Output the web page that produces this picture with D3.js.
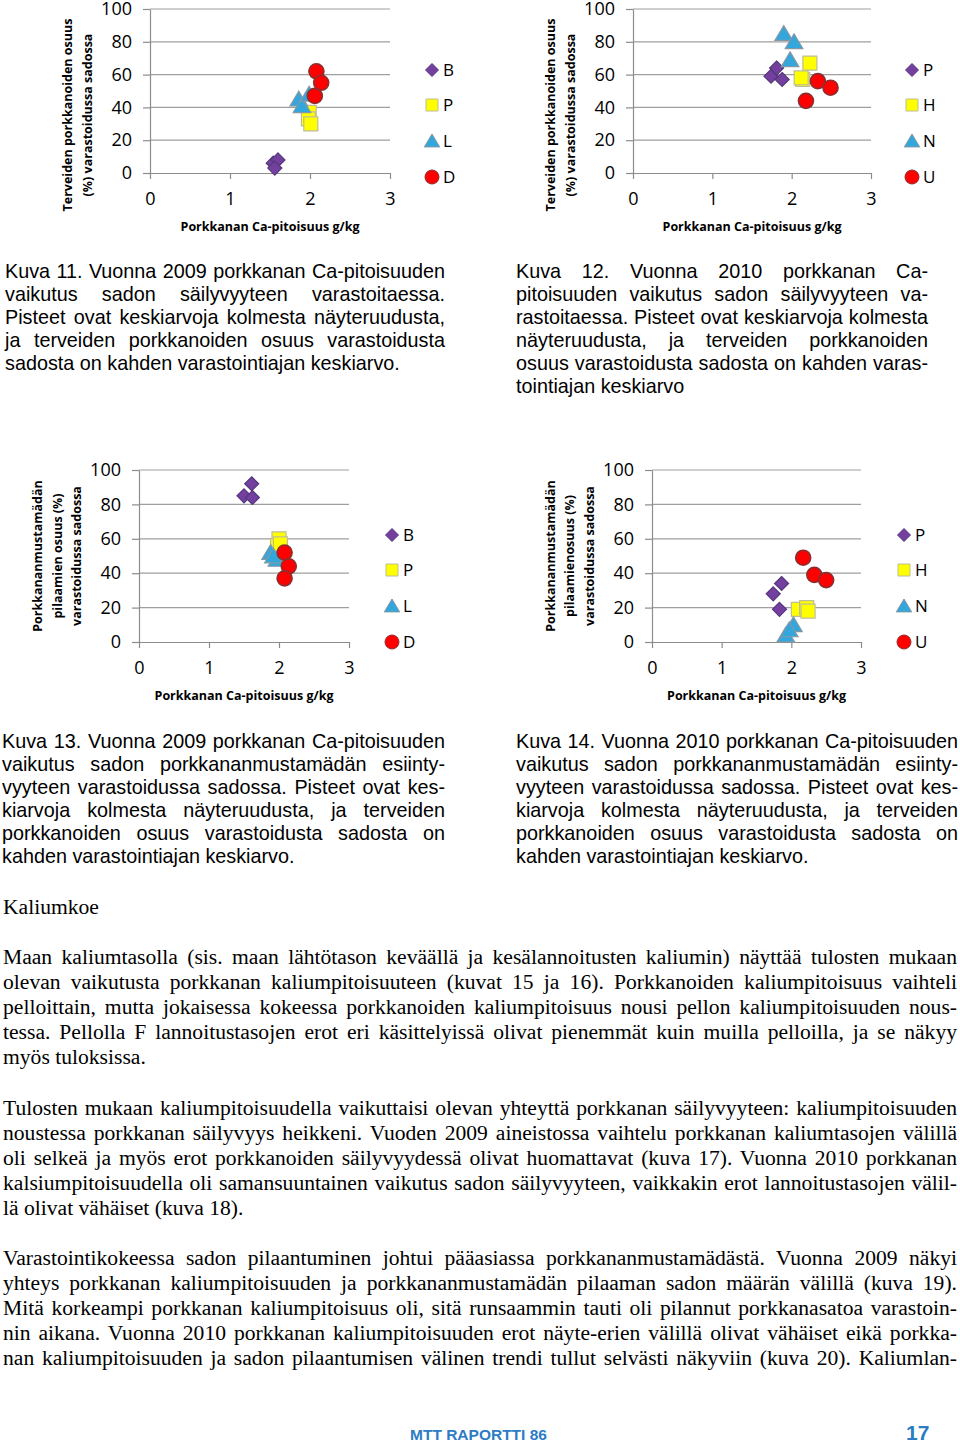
<!DOCTYPE html>
<html>
<head>
<meta charset="utf-8">
<script src="https://cdn.jsdelivr.net/npm/d3@7"></script>
<style>
  body { margin: 0; background: #fff; }
  #page { position: relative; width: 960px; height: 1444px; overflow: hidden; background: #fff; }
  #chart { position: absolute; left: 0; top: 0; }
  .blk { position: absolute; color: #000; }
  .ln { white-space: nowrap; }
  .ln.just { text-align: justify; text-align-last: justify; }
  .cap { font-family: "Liberation Sans", Arial, sans-serif; font-size: 19.8px; line-height: 23px; }
  .body { font-family: "Liberation Serif", "Times New Roman", serif; font-size: 21.6px; line-height: 25px; }
  .foot { position: absolute; line-height: 1; font-family: "Liberation Sans Narrow", "Liberation Sans", Arial, sans-serif; font-weight: bold; color: #2b7cc4; }
</style>
</head>
<body>
<div id="page"><svg id="chart" width="960" height="720"></svg></div>
<script>
// treatments and ticks
const treat09 = ["B", "P", "L", "D"];
const treat10 = ["P", "H", "N", "U"];
const yTicks = [0, 20, 40, 60, 80, 100];
const xTicks = [0, 1, 2, 3];

// Kuva 11: Ca g/kg vs healthy carrots %
const k11B = [[1.54, 6], [1.60, 8], [1.56, 3]];
const k11P = [[1.99, 37], [1.98, 33], [2.01, 30]];
const k11L = [[1.86, 45], [1.90, 41], [1.99, 48]];
const k11D = [[2.08, 62], [2.14, 55], [2.06, 47]];

// Kuva 12
const k12P = [[1.74, 59], [1.81, 64], [1.88, 57]];
const k12H = [[2.14, 57], [2.23, 67], [2.12, 58]];
const k12N = [[1.90, 85], [2.03, 80], [1.98, 69]];
const k12U = [[2.33, 56], [2.49, 52], [2.18, 44]];

// Kuva 13: Ca g/kg vs black rot %
const k13B = [[1.61, 92], [1.50, 85], [1.62, 84]];
const k13P = [[2.00, 60], [1.98, 56], [2.02, 57]];
const k13L = [[1.88, 52], [1.97, 48], [1.92, 50]];
const k13D = [[2.08, 52], [2.14, 44], [2.08, 37]];

// Kuva 14
const k14P = [[1.74, 28], [1.86, 34], [1.83, 19]];
const k14H = [[2.10, 19], [2.22, 20], [2.24, 18]];
const k14N = [[1.92, 4], [2.03, 10], [1.97, 7]];
const k14U = [[2.17, 49], [2.33, 39], [2.50, 36]];

const xTitle = "Porkkanan Ca-pitoisuus g/kg";
const yTitle11 = ["Terveiden porkkanoiden osuus", "(%) varastoidussa sadossa"];
const yTitle13 = ["Porkkananmustamädän", "pilaamien osuus (%)", "varastoidussa sadossa"];
const yTitle14 = ["Porkkananmustamädän", "pilaamienosuus (%)", "varastoidussa sadossa"];

const cap11 = [
  "Kuva 11. Vuonna 2009 porkkanan Ca-pitoisuuden",
  "vaikutus sadon säilyvyyteen varastoitaessa.",
  "Pisteet ovat keskiarvoja kolmesta näyteruudusta,",
  "ja terveiden porkkanoiden osuus varastoidusta",
  "sadosta on kahden varastointiajan keskiarvo."
];
const cap12 = [
  "Kuva 12. Vuonna 2010 porkkanan Ca-",
  "pitoisuuden vaikutus sadon säilyvyyteen va-",
  "rastoitaessa. Pisteet ovat keskiarvoja kolmesta",
  "näyteruudusta, ja terveiden porkkanoiden",
  "osuus varastoidusta sadosta on kahden varas-",
  "tointiajan keskiarvo"
];
const cap13 = [
  "Kuva 13. Vuonna 2009 porkkanan Ca-pitoisuuden",
  "vaikutus sadon porkkananmustamädän esiinty-",
  "vyyteen varastoidussa sadossa. Pisteet ovat kes-",
  "kiarvoja kolmesta näyteruudusta, ja terveiden",
  "porkkanoiden osuus varastoidusta sadosta on",
  "kahden varastointiajan keskiarvo."
];
const cap14 = [
  "Kuva 14. Vuonna 2010 porkkanan Ca-pitoisuuden",
  "vaikutus sadon porkkananmustamädän esiinty-",
  "vyyteen varastoidussa sadossa. Pisteet ovat kes-",
  "kiarvoja kolmesta näyteruudusta, ja terveiden",
  "porkkanoiden osuus varastoidusta sadosta on",
  "kahden varastointiajan keskiarvo."
];
const heading = ["Kaliumkoe"];
const para1 = [
  "Maan kaliumtasolla (sis. maan lähtötason keväällä ja kesälannoitusten kaliumin) näyttää tulosten mukaan",
  "olevan vaikutusta porkkanan kaliumpitoisuuteen (kuvat 15 ja 16). Porkkanoiden kaliumpitoisuus vaihteli",
  "pelloittain, mutta jokaisessa kokeessa porkkanoiden kaliumpitoisuus nousi pellon kaliumpitoisuuden nous-",
  "tessa.  Pellolla F lannoitustasojen erot eri käsittelyissä olivat pienemmät kuin muilla pelloilla, ja se näkyy",
  "myös tuloksissa."
];
const para2 = [
  "Tulosten mukaan kaliumpitoisuudella vaikuttaisi olevan yhteyttä porkkanan säilyvyyteen: kaliumpitoisuuden",
  "noustessa porkkanan säilyvyys heikkeni. Vuoden 2009 aineistossa vaihtelu porkkanan kaliumtasojen välillä",
  "oli selkeä ja myös erot porkkanoiden säilyvyydessä olivat huomattavat (kuva 17). Vuonna 2010 porkkanan",
  "kalsiumpitoisuudella oli samansuuntainen vaikutus sadon säilyvyyteen, vaikkakin erot lannoitustasojen välil-",
  "lä olivat vähäiset (kuva 18)."
];
const para3 = [
  "Varastointikokeessa sadon pilaantuminen johtui pääasiassa porkkananmustamädästä. Vuonna 2009 näkyi",
  "yhteys porkkanan kaliumpitoisuuden ja porkkananmustamädän pilaaman sadon määrän välillä (kuva 19).",
  "Mitä korkeampi porkkanan kaliumpitoisuus oli, sitä runsaammin tauti oli pilannut porkkanasatoa varastoin-",
  "nin aikana. Vuonna 2010 porkkanan kaliumpitoisuuden erot näyte-erien välillä olivat vähäiset eikä porkka-",
  "nan kaliumpitoisuuden ja sadon pilaantumisen välinen trendi tullut selvästi näkyviin (kuva 20). Kaliumlan-"
];

const fills = ["#7340a0", "#ffff00", "#33a6dc", "#ff0000"];
const strokes = ["#55387a", "#bdbd98", "#8598a6", "#8a2f2f"];
const font = '"Open Sans", "Liberation Sans", sans-serif';

function shape(i, s) {
  if (i === 0) return `M0,${-s}L${s},0L0,${s}L${-s},0Z`;
  if (i === 1) return `M${-s},${-s}h${2 * s}v${2 * s}h${-2 * s}Z`;
  if (i === 2) return `M0,${-s}L${s * 1.1},${s * 0.85}L${-s * 1.1},${s * 0.85}Z`;
  return d3.symbol(d3.symbolCircle, Math.PI * s * s)();
}
const markSize = [7, 7, 8, 7.5];
const legSize = [6.5, 6, 7, 7];

const panels = [
  { series: [k11B, k11P, k11L, k11D], names: treat09, x0: 150, x1: 390, y0: 173, y1: 9,
    title: yTitle11, titleX: [68, 88], titleY: 115, legX: 432, legY: [70, 105, 141, 177] },
  { series: [k12P, k12H, k12N, k12U], names: treat10, x0: 633, x1: 871, y0: 173, y1: 9,
    title: yTitle11, titleX: [551, 571], titleY: 115, legX: 912, legY: [70, 105, 141, 177] },
  { series: [k13B, k13P, k13L, k13D], names: treat09, x0: 139, x1: 349, y0: 642, y1: 470,
    title: yTitle13, titleX: [38, 58, 77], titleY: 556, legX: 392, legY: [535, 570, 606, 642] },
  { series: [k14P, k14H, k14N, k14U], names: treat10, x0: 652, x1: 861, y0: 642, y1: 470,
    title: yTitle14, titleX: [551, 570, 590], titleY: 556, legX: 904, legY: [535, 570, 606, 642] }
];

const svg = d3.select("#chart").style("font-family", font);

panels.forEach(p => {
  const x = d3.scaleLinear().domain([0, 3]).range([p.x0, p.x1]);
  const y = d3.scaleLinear().domain([0, 100]).range([p.y0, p.y1]);
  const g = svg.append("g");

  // gridlines
  g.selectAll("line.grid")
    .data(yTicks.slice(1))
    .enter()
    .append("line")
    .attr("x1", p.x0).attr("x2", p.x1)
    .attr("y1", d => y(d)).attr("y2", d => y(d))
    .attr("stroke", "#9f9f9f").attr("stroke-width", 1.2);

  const ya = g.append("g")
    .attr("transform", `translate(${p.x0},0)`)
    .call(d3.axisLeft(y).tickValues(yTicks).tickSize(7).tickSizeOuter(0).tickPadding(11));
  const xa = g.append("g")
    .attr("transform", `translate(0,${p.y0})`)
    .call(d3.axisBottom(x).tickValues(xTicks).tickFormat(d3.format("d"))
      .tickSize(6).tickSizeOuter(0).tickPadding(13));
  [ya, xa].forEach(a => {
    a.selectAll("path, line").attr("stroke", "#8c8c8c").attr("stroke-width", 1.2);
    a.selectAll("text").attr("font-family", font).attr("font-size", 18).attr("fill", "#000");
  });

  // axis titles
  g.append("text")
    .attr("x", (p.x0 + p.x1) / 2)
    .attr("y", p.y0 + 54)
    .attr("text-anchor", "middle")
    .attr("dy", "0.35em")
    .attr("font-size", 12.5)
    .attr("font-weight", "bold")
    .text(xTitle);

  p.title.forEach((t, i) => {
    g.append("text")
      .attr("transform", `translate(${p.titleX[i]},${p.titleY}) rotate(-90)`)
      .attr("text-anchor", "middle")
      .attr("dy", "0.35em")
      .attr("font-size", 12.5)
      .attr("font-weight", "bold")
      .text(t);
  });

  // points
  p.series.forEach((pts, si) => {
    g.selectAll(null)
      .data(pts)
      .enter()
      .append("path")
      .attr("d", shape(si, markSize[si]))
      .attr("transform", d => `translate(${x(d[0])},${y(d[1])})`)
      .attr("fill", fills[si])
      .attr("stroke", strokes[si])
      .attr("stroke-width", si === 3 ? 1.6 : 1.2);
  });

  // legend
  const rows = g.selectAll("g.row")
    .data(p.names)
    .enter()
    .append("g")
    .attr("class", "row")
    .attr("transform", (d, i) => `translate(${p.legX},${p.legY[i]})`);
  rows.append("path")
    .attr("d", (d, i) => shape(i, legSize[i]))
    .attr("fill", (d, i) => fills[i])
    .attr("stroke", (d, i) => strokes[i])
    .attr("stroke-width", 1);
  rows.append("text")
    .attr("x", 11)
    .attr("dy", "0.35em")
    .attr("font-size", 17)
    .text(d => d);
});

// text blocks
const page = d3.select("#page");
function block(lines, cls, left, top, width, lastJustify) {
  const b = page.append("div")
    .attr("class", "blk " + cls)
    .style("left", left + "px")
    .style("top", top + "px")
    .style("width", width + "px");
  const lns = b.selectAll("div")
    .data(lines)
    .enter()
    .append("div")
    .attr("class", "ln");
  lns.append("span").text(d => d);
  // shrink font if a line would not fit
  let maxW = 0;
  lns.select("span").each(function () { maxW = Math.max(maxW, this.getBoundingClientRect().width); });
  if (maxW > width) {
    const fs = parseFloat(getComputedStyle(b.node()).fontSize);
    b.style("font-size", (fs * width / maxW - 0.05) + "px");
  }
  lns.classed("just", (d, i) => i < lines.length - 1 || lastJustify);
}

block(cap11, "cap", 5, 259.5, 440, false);
block(cap12, "cap", 516, 259.5, 412, false);
block(cap13, "cap", 2, 729.5, 443, false);
block(cap14, "cap", 516, 729.5, 442, false);
block(heading, "body", 3, 894.5, 300, false);
block(para1, "body", 3, 944.5, 954, false);
block(para2, "body", 3, 1095.5, 954, false);
block(para3, "body", 3, 1245.5, 954, true);

page.append("div").attr("class", "foot")
  .style("left", "410px").style("top", "1427px")
  .style("font-size", "15.5px")
  .text("MTT RAPORTTI 86");
page.append("div").attr("class", "foot")
  .style("left", "906px").style("top", "1422px")
  .style("font-size", "21px")
  .text("17");
</script>
</body>
</html>
